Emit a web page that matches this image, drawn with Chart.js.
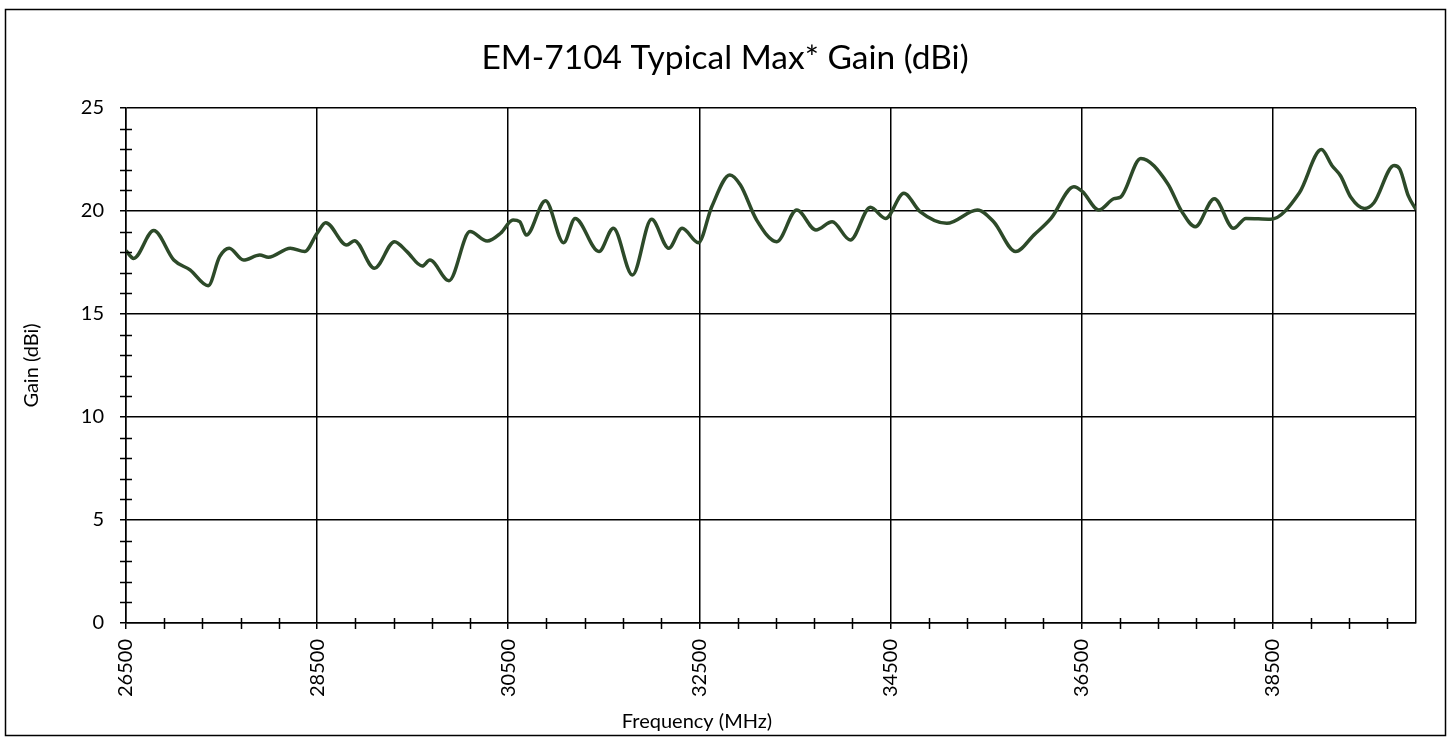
<!DOCTYPE html>
<html>
<head>
<meta charset="utf-8">
<script src="https://cdn.jsdelivr.net/npm/chart.js@4"></script>
<style>
	html, body { margin: 0; padding: 0; background: #fff; }
</style>
</head>
<body>
<canvas id="myChart" width="1450" height="738"></canvas>
<script>
// values
const freqMHz = [26500, 26580, 26790, 27000, 27170, 27360, 27480, 27580, 27730, 27900, 27990, 28220, 28370, 28500, 28590, 28810, 28890, 29100, 29310, 29440, 29600, 29680, 29880, 30100, 30280, 30420, 30550, 30620, 30690, 30890, 31080, 31200, 31450, 31600, 31800, 32000, 32180, 32320, 32490, 32630, 32820, 32930, 33100, 33310, 33520, 33720, 33890, 34080, 34290, 34450, 34640, 34810, 35090, 35410, 35580, 35810, 36000, 36180, 36420, 36510, 36680, 36840, 36910, 37120, 37400, 37550, 37690, 37890, 38090, 38220, 38480, 38780, 39010, 39120, 39210, 39320, 39460, 39560, 39770, 39830, 39920, 40000]
const gainDbi = [18.07, 17.70, 19.05, 17.62, 17.14, 16.37, 17.78, 18.19, 17.62, 17.86, 17.75, 18.19, 18.03, 18.92, 19.43, 18.35, 18.56, 17.22, 18.51, 18.03, 17.33, 17.62, 16.62, 19.0, 18.54, 18.92, 19.56, 19.48, 18.83, 20.5, 18.46, 19.64, 18.03, 19.16, 16.89, 19.6, 18.19, 19.16, 18.46, 20.21, 21.75, 21.26, 19.56, 18.51, 20.05, 19.08, 19.48, 18.59, 20.18, 19.64, 20.86, 19.97, 19.4, 20.05, 19.48, 18.03, 18.83, 19.64, 21.18, 20.94, 20.05, 20.6, 20.68, 22.55, 21.34, 19.97, 19.24, 20.6, 19.16, 19.64, 19.6, 20.89, 22.98, 22.21, 21.71, 20.65, 20.12, 20.4, 22.21, 22.04, 20.73, 20.07]

const xTickValues = [26500, 28500, 30500, 32500, 34500, 36500, 38500, 40000]
const xMinorStep = 400
const yMinorStep = 1

const chartTitle = "EM-7104 Typical Max* Gain (dBi)"
const xTitle = "Frequency (MHz)"
const yTitle = "Gain (dBi)"

const FONT = "Lato, 'Liberation Sans', sans-serif"
const LINE_COLOR = "#2d4a29"

// outer frame, titles (centred on the whole picture, x title left of centre) and crossing minor ticks
const framePlugin = {
	id: "frame",
	afterDraw(chart) {
		const ctx = chart.ctx
		const x = chart.scales.x
		const y = chart.scales.y
		ctx.save()
		ctx.strokeStyle = "#000"
		ctx.lineWidth = 1.5
		ctx.strokeRect(5.5, 9.5, 1440, 726)

		ctx.fillStyle = "#000"
		ctx.textAlign = "center"
		ctx.textBaseline = "middle"
		ctx.font = "33.5px " + FONT
		ctx.fillText(chartTitle, 725, 58)
		ctx.font = "20px " + FONT
		ctx.fillText(xTitle, 697, 722)

		ctx.lineWidth = 1.5
		ctx.beginPath()
		for (let v = x.min + xMinorStep; v < x.max; v += xMinorStep) {
			if ((v - x.min) % 2000 === 0) continue
			const px = Math.round(x.getPixelForValue(v)) + 0.5
			ctx.moveTo(px, y.bottom - 5)
			ctx.lineTo(px, y.bottom + 6)
		}
		for (let v = y.min + yMinorStep; v < y.max; v += yMinorStep) {
			if (v % 5 === 0) continue
			const py = Math.round(y.getPixelForValue(v)) + 0.5
			ctx.moveTo(x.left - 6, py)
			ctx.lineTo(x.left + 6, py)
		}
		ctx.stroke()
		ctx.restore()
	}
}

new Chart("myChart", {
	type: "line",
	data: {
		datasets: [{
			label: "Gain",
			data: freqMHz.map((f, i) => ({ x: f, y: gainDbi[i] })),
			borderColor: LINE_COLOR,
			borderWidth: 3.5,
			pointRadius: 0,
			cubicInterpolationMode: "monotone",
			fill: false
		}]
	},
	options: {
		responsive: false,
		animation: false,
		layout: {
			padding: { left: 16, right: 33, top: 108, bottom: 0 }
		},
		plugins: {
			legend: { display: false },
			tooltip: { enabled: false },
			title: { display: false }
		},
		scales: {
			x: {
				type: "linear",
				min: 26500,
				max: 40000,
				afterBuildTicks(scale) {
					scale.ticks = xTickValues.map(v => ({ value: v }))
				},
				afterFit(scale) {
					scale.height = 738 - 623
				},
				ticks: {
					autoSkip: false,
					minRotation: 90,
					maxRotation: 90,
					padding: 10,
					color: "#000",
					font: { family: FONT, size: 20 },
					callback: v => (v === 40000 ? "" : String(v))
				},
				grid: {
					color: "#000",
					lineWidth: 1.5,
					tickLength: 6,
					tickColor: ctx => (ctx.tick && ctx.tick.value === 40000 ? "rgba(0,0,0,0)" : "#000")
				},
				border: { color: "#000", width: 1.5 },
				title: { display: false }
			},
			y: {
				min: 0,
				max: 25,
				ticks: {
					stepSize: 5,
					padding: 16,
					color: "#000",
					font: { family: FONT, size: 20 }
				},
				afterFit(scale) {
					scale.width = 126 - 16
				},
				grid: {
					color: "#000",
					lineWidth: 1.5,
					tickLength: 6
				},
				border: { color: "#000", width: 1.5 },
				title: {
					display: true,
					text: yTitle,
					color: "#000",
					font: { family: FONT, size: 20 },
					padding: { top: 4, bottom: 0 }
				}
			}
		}
	},
	plugins: [framePlugin]
})
</script>
</body>
</html>
